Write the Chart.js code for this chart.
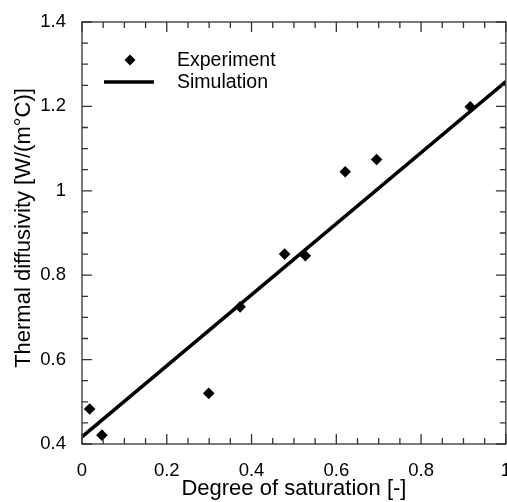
<!DOCTYPE html>
<html>
<head>
<meta charset="utf-8">
<script src="https://cdn.jsdelivr.net/npm/chart.js@4.4.1/dist/chart.umd.min.js"></script>
<style>
  html, body { margin: 0; background: #fff; overflow: hidden; }
  /* canvas is wider than the window so the "1" label gets clipped like in the figure */
  #wrap { width: 507px; height: 502px; overflow: hidden; }
</style>
</head>
<body>
<div id="wrap"><canvas id="thermalChart" width="519" height="502"></canvas></div>
<script>
        // values
        const expSaturation = [0.018, 0.047, 0.299, 0.373, 0.478, 0.527, 0.621, 0.695, 0.916];
        const expDiffusivity = [0.483, 0.421, 0.520, 0.725, 0.850, 0.846, 1.045, 1.074, 1.199];
        const simSaturation = [0, 1];
        const simDiffusivity = [0.417, 1.259];
        const xTicks = [0, 0.2, 0.4, 0.6, 0.8, 1];
        const yTicks = [0.4, 0.6, 0.8, 1, 1.2, 1.4];
        const yTitle = 'Thermal diffusivity [W/(m\u00b0C)]';

        const fontFamily = '"Liberation Sans", Arial, Helvetica, sans-serif';

        const fmt = v => String(Math.round(v * 100) / 100);

        // frame, inward ticks (major + minor) on all four sides, y title and the legend
        const frameAndLegend = {
            id: 'frameAndLegend',
            afterDraw(chart) {
                const ctx = chart.ctx;
                const area = chart.chartArea;
                const xs = chart.scales.x;
                const ys = chart.scales.y;
                ctx.save();
                ctx.strokeStyle = '#333';
                ctx.lineWidth = 1.3;
                ctx.strokeRect(area.left, area.top, area.right - area.left, area.bottom - area.top);

                ctx.beginPath();
                for (let i = 0; i <= 20; i++) {
                    const len = (i % 4 === 0) ? 10 : 6;
                    const px = xs.getPixelForValue(i * 0.05);
                    ctx.moveTo(px, area.bottom); ctx.lineTo(px, area.bottom - len);
                    ctx.moveTo(px, area.top); ctx.lineTo(px, area.top + len);
                    const py = ys.getPixelForValue(0.4 + i * 0.05);
                    ctx.moveTo(area.left, py); ctx.lineTo(area.left + len, py);
                    ctx.moveTo(area.right, py); ctx.lineTo(area.right - len, py);
                }
                ctx.stroke();

                // y axis title (sits a little above the plot centre in the figure)
                ctx.fillStyle = '#000';
                ctx.font = '22px ' + fontFamily;
                ctx.textAlign = 'center';
                ctx.textBaseline = 'middle';
                ctx.translate(24, (area.top + area.bottom) / 2 - 5);
                ctx.rotate(-Math.PI / 2);
                ctx.fillText(yTitle, 0, 0);
                ctx.setTransform(1, 0, 0, 1, 0, 0);

                // legend
                const lx = area.left + 48;
                const ly1 = area.top + 38;
                const ly2 = area.top + 60;
                ctx.beginPath();
                ctx.moveTo(lx, ly1 - 5.5);
                ctx.lineTo(lx + 5.5, ly1);
                ctx.lineTo(lx, ly1 + 5.5);
                ctx.lineTo(lx - 5.5, ly1);
                ctx.closePath();
                ctx.fill();

                ctx.strokeStyle = '#000';
                ctx.lineWidth = 3.5;
                ctx.beginPath();
                ctx.moveTo(lx - 26, ly2);
                ctx.lineTo(lx + 24, ly2);
                ctx.stroke();

                ctx.font = '19.5px ' + fontFamily;
                ctx.textAlign = 'left';
                ctx.fillText(chart.data.datasets[0].label, lx + 47, ly1 + 1);
                ctx.fillText(chart.data.datasets[1].label, lx + 47, ly2 + 1);
                ctx.restore();
            }
        };

        const thermalChart = new Chart(document.getElementById('thermalChart'), {
            type: 'scatter',
            data: {
                datasets: [{
                    label: 'Experiment',
                    data: expSaturation.map((x, i) => ({ x: x, y: expDiffusivity[i] })),
                    pointStyle: 'rectRot',
                    pointRadius: 5.8,
                    pointBackgroundColor: '#000',
                    pointBorderColor: '#000',
                    pointBorderWidth: 0,
                    showLine: false
                }, {
                    label: 'Simulation',
                    data: simSaturation.map((x, i) => ({ x: x, y: simDiffusivity[i] })),
                    showLine: true,
                    borderColor: '#000',
                    borderWidth: 3.5,
                    pointRadius: 0,
                    fill: false
                }]
            },
            options: {
                responsive: false,
                animation: false,
                layout: { padding: { top: 22, right: 3, left: 0, bottom: 0 } },
                plugins: {
                    legend: { display: false },
                    tooltip: { enabled: false }
                },
                scales: {
                    x: {
                        type: 'linear',
                        min: 0,
                        max: 1,
                        afterBuildTicks: s => { s.ticks = xTicks.map(v => ({ value: v })); },
                        afterFit: s => { s.height = 58; },
                        grid: { display: false },
                        border: { display: false },
                        ticks: {
                            color: '#000',
                            padding: 8,
                            maxRotation: 0,
                            autoSkip: false,
                            font: { family: fontFamily, size: 18.5 },
                            callback: v => fmt(v)
                        },
                        title: {
                            display: true,
                            text: 'Degree of saturation [-]',
                            color: '#000',
                            padding: 0,
                            font: { family: fontFamily, size: 22 }
                        }
                    },
                    y: {
                        type: 'linear',
                        min: 0.4,
                        max: 1.4,
                        afterBuildTicks: s => { s.ticks = yTicks.map(v => ({ value: v })); },
                        afterFit: s => { s.width = 82; },
                        grid: { display: false },
                        border: { display: false },
                        ticks: {
                            color: '#000',
                            padding: 8,
                            autoSkip: false,
                            font: { family: fontFamily, size: 18.5 },
                            callback: v => fmt(v)
                        },
                        title: { display: false }
                    }
                }
            },
            plugins: [frameAndLegend]
        });
</script>
</body>
</html>
